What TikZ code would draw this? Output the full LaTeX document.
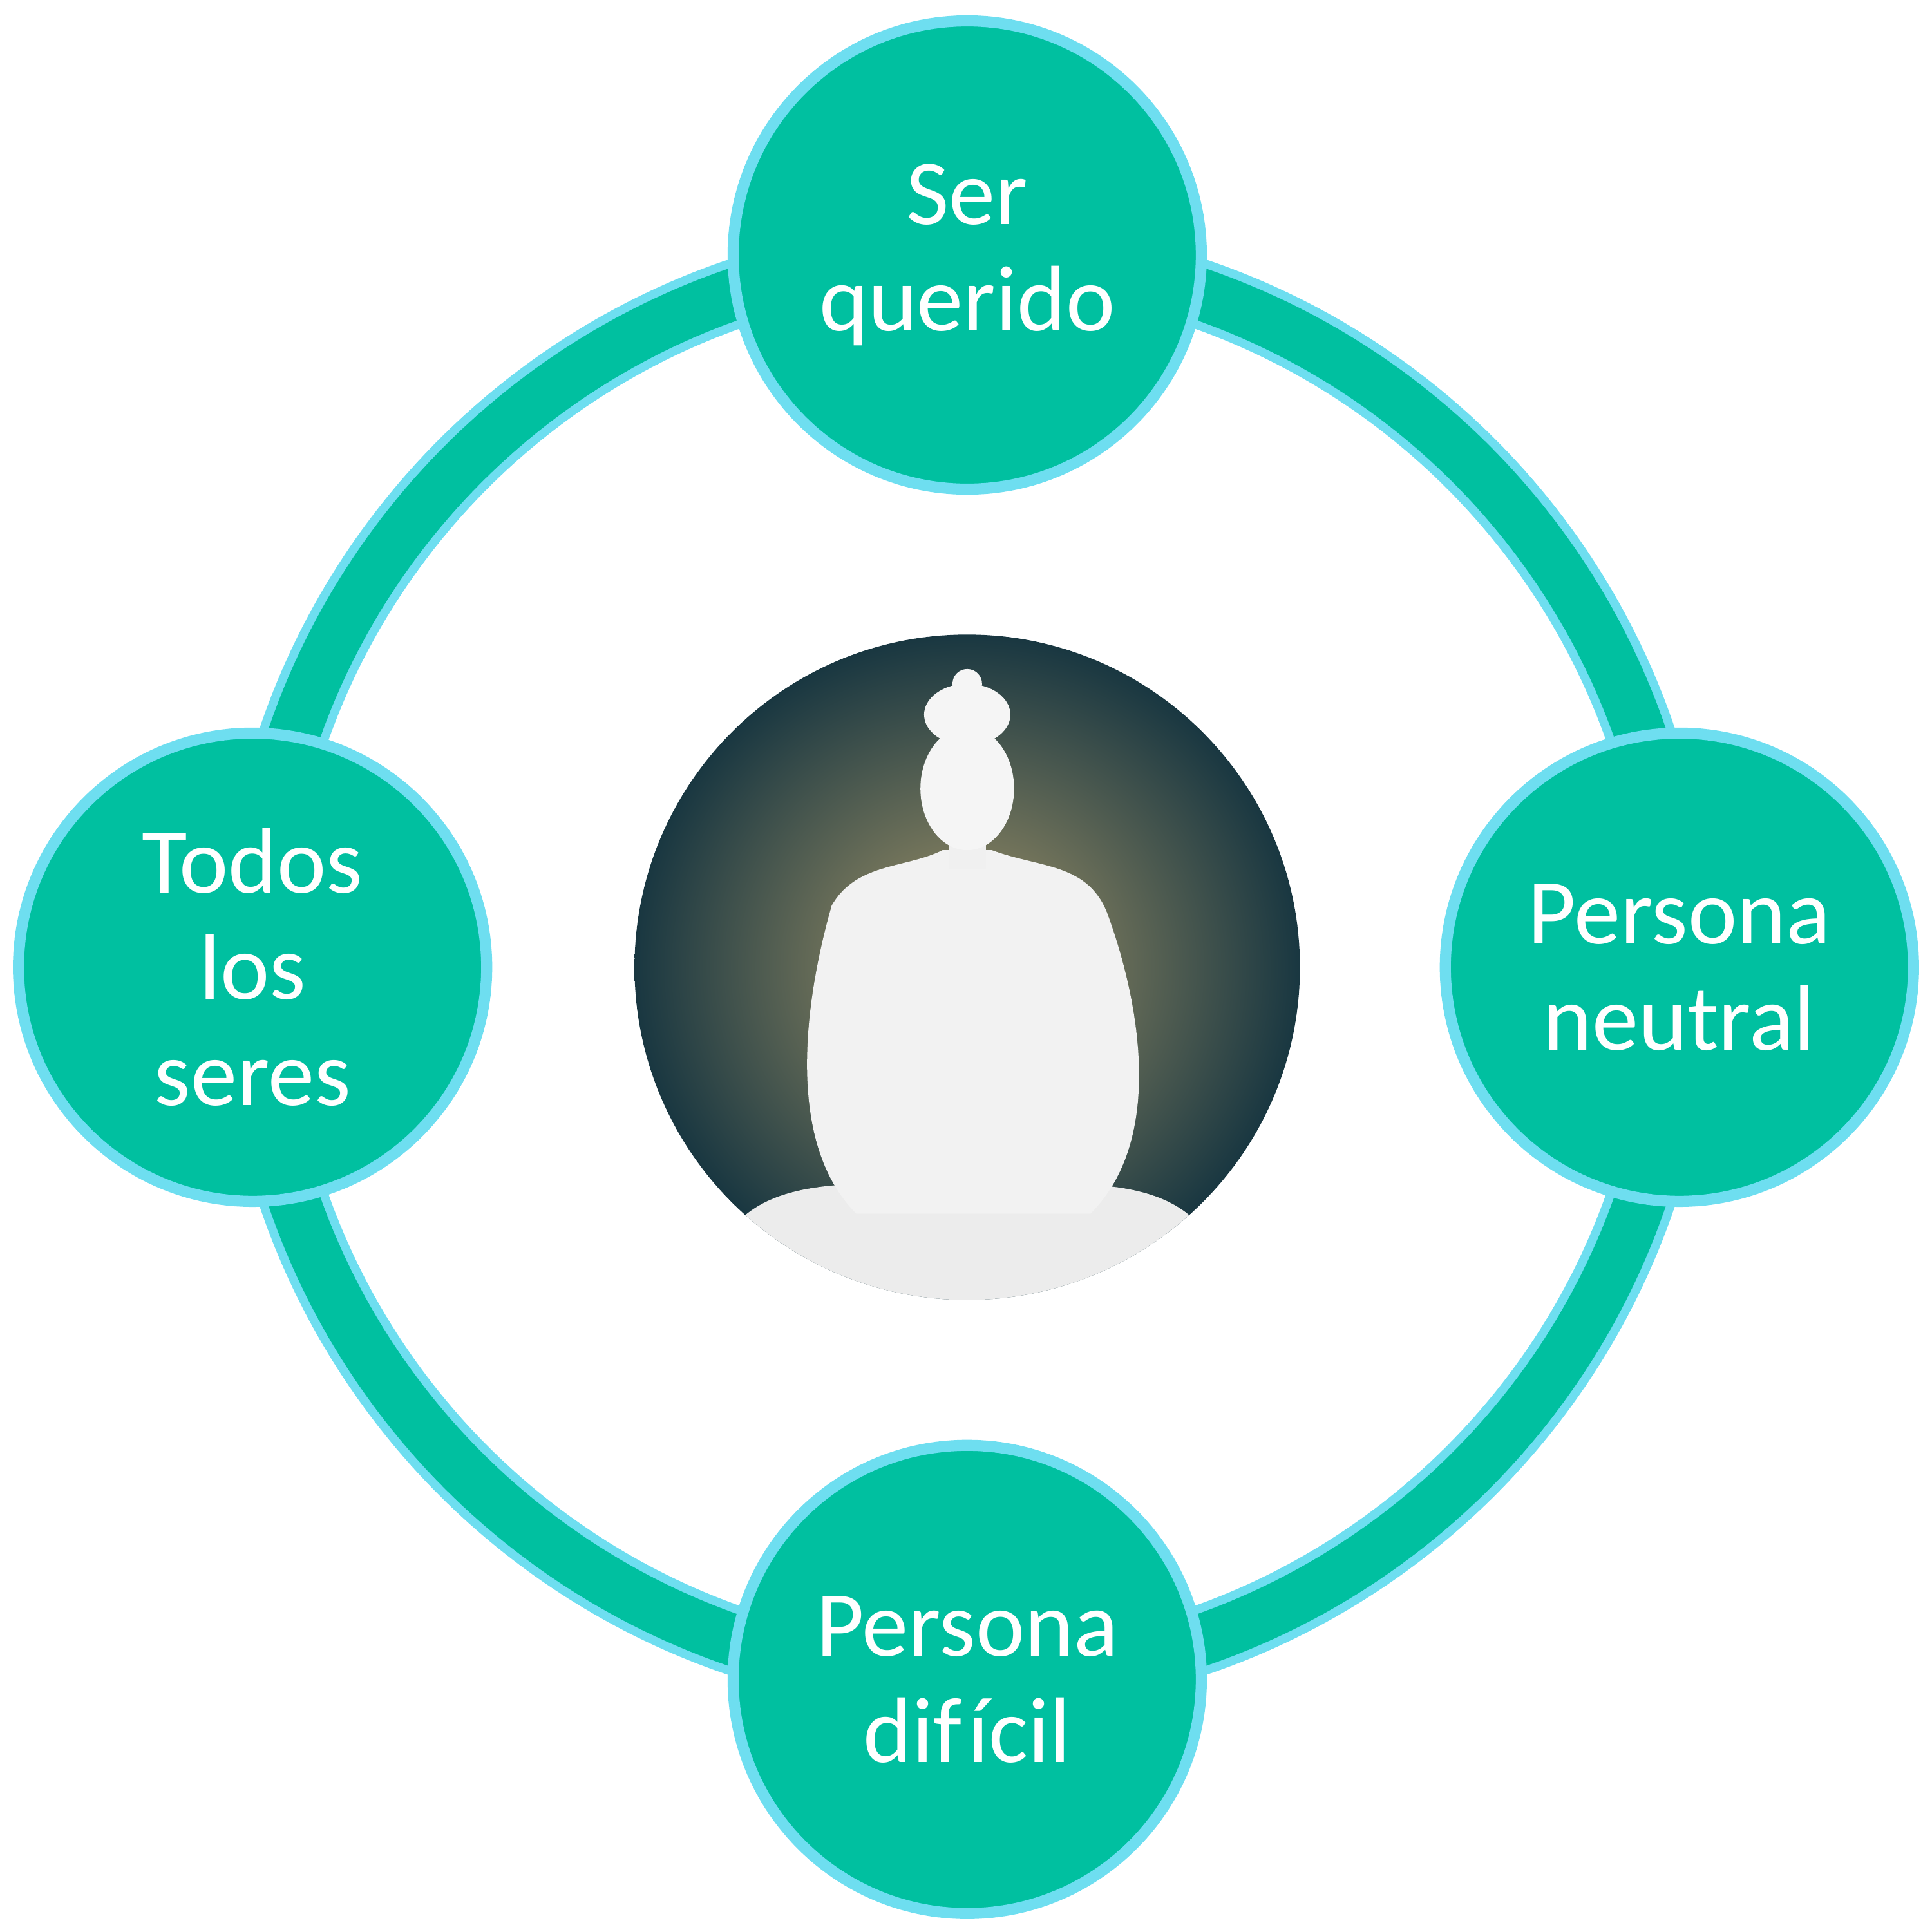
\documentclass[tikz,border=0pt]{standalone}
\usepackage{fontspec}
\setmainfont{Carlito}[Ligatures={NoCommon}]
\definecolor{teal1}{RGB}{0,192,160}
\definecolor{cyan1}{RGB}{110,222,240}
\definecolor{bgdark}{RGB}{25,55,65}
\definecolor{gold1}{RGB}{165,150,105}
\tikzset{
  bubble/.style={circle, minimum size=3.8cm, fill=teal1, draw=cyan1, line width=0.09cm,
    text=white, align=center, font=\fontsize{21.5}{24.5}\selectfont, inner sep=0pt}
}
\begin{document}
\begin{tikzpicture}
\useasboundingbox (-7.85,-7.83) rectangle (7.83,7.85);
\draw[cyan1, line width=0.56cm] (0,0) circle (5.78);
\draw[teal1, line width=0.42cm] (0,0) circle (5.78);
% centre picture (stylised)
\node[circle, minimum size=5.4cm, inner sep=0pt, inner color=gold1, outer color=bgdark] (img) at (0,0) {};
\begin{scope}
\clip (0,0) circle (2.7);
\fill[white!85!gray] (-2.1,-2.8) .. controls (-2.1,-1.7) and (-1.2,-1.7) .. (0,-1.8) .. controls (1.2,-1.7) and (2.1,-1.7) .. (2.1,-2.8) -- cycle;
\fill[white!90!gray] (-0.9,-2.0) .. controls (-1.5,-1.4) and (-1.3,-0.2) .. (-1.1,0.5)
  .. controls (-0.9,0.85) and (-0.5,0.8) .. (-0.2,0.95) -- (0.2,0.95)
  .. controls (0.6,0.8) and (1.0,0.85) .. (1.15,0.4)
  .. controls (1.4,-0.3) and (1.6,-1.4) .. (1.0,-2.0) -- cycle;
\fill[white!88!gray] (-0.15,0.8) rectangle (0.15,1.1);
\fill[white!92!gray] (0,1.45) ellipse (0.38 and 0.5);
\fill[white!92!gray] (0,2.05) ellipse (0.35 and 0.25);
\fill[white!92!gray] (0,2.3) circle (0.12);
\end{scope}
\node[bubble] (top) at (0,5.78) {Ser\\querido};
\node[bubble] (right) at (5.78,0) {Persona\\neutral};
\node[bubble] (bottom) at (0,-5.78) {Persona\\dif\kern0.06em ícil};
\node[bubble] (left) at (-5.8,0) {Todos\\los\\seres};
\end{tikzpicture}
\end{document}
